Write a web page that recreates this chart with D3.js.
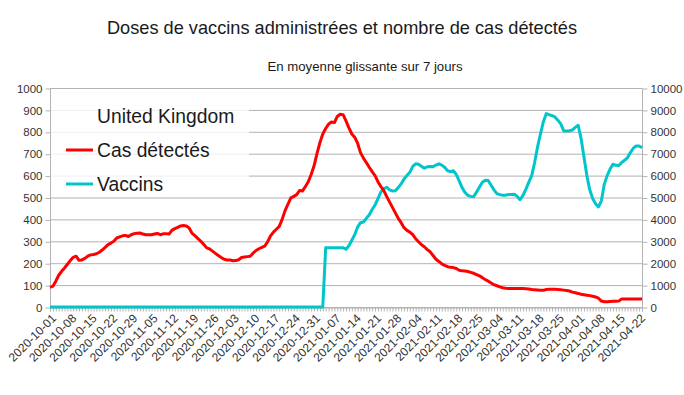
<!DOCTYPE html>
<head>
    <meta charset="utf-8">
    <script src="https://d3js.org/d3.v7.min.js"></script>
    <style>
        body { margin: 0; background: #fff; }
        text { font-family: "Liberation Sans", Arial, sans-serif; }
    </style>
</head>
<body>
    <svg></svg>
    <script>
        // daily values (7-day rolling mean)
        var startDate = "2020-10-01";

        var casValues = [
            90, 95, 118, 145, 163, 178, 195, 212, 227, 232,
            213, 215, 222, 232, 238, 240, 243, 250, 260, 272,
            285, 292, 300, 315, 320, 325, 327, 322, 330, 335,
            337, 338, 333, 330, 330, 330, 333, 336, 330, 334,
            335, 333, 350, 358, 364, 370, 372, 370, 360, 336,
            325, 312, 300, 285, 270, 265, 255, 245, 235, 226,
            218, 215, 215, 211, 212, 216, 226, 228, 230, 232,
            246, 258, 266, 272, 278, 298, 325, 342, 355, 368,
            400, 440, 470, 498, 505, 513, 532, 530, 550, 572,
            605, 645, 700, 750, 790, 815, 835, 845, 842, 870,
            880, 878, 850, 818, 790, 775, 748, 705, 680, 660,
            638, 618, 600, 572, 550, 533, 505, 480, 455, 430,
            405, 385, 362, 350, 342, 330, 312, 298, 285, 275,
            262, 252, 235, 218, 208, 197, 190, 184, 181, 180,
            176, 168, 165, 164, 162, 158, 154, 148, 142, 134,
            125, 118, 110, 102, 97, 92, 88, 86, 85, 84,
            84, 84, 84, 84, 83, 82, 80, 79, 78, 77,
            76, 80, 81, 81, 81, 80, 79, 77, 75, 73,
            68, 65, 62, 58, 56, 54, 52, 49, 46, 40,
            27, 24, 24, 25, 26, 26, 27, 37, 37, 37,
            37, 37, 37, 37, 37
        ];

        var vaccinValues = [
            0, 0, 0, 0, 0, 0, 0, 0, 0, 0,
            0, 0, 0, 0, 0, 0, 0, 0, 0, 0,
            0, 0, 0, 0, 0, 0, 0, 0, 0, 0,
            0, 0, 0, 0, 0, 0, 0, 0, 0, 0,
            0, 0, 0, 0, 0, 0, 0, 0, 0, 0,
            0, 0, 0, 0, 0, 0, 0, 0, 0, 0,
            0, 0, 0, 0, 0, 0, 0, 0, 0, 0,
            0, 0, 0, 0, 0, 0, 0, 0, 0, 0,
            0, 0, 0, 0, 0, 0, 0, 0, 0, 0,
            0, 0, 0, 0, 0, 2700, 2700, 2700, 2700, 2700,
            2700, 2700, 2640, 2800, 3050, 3300, 3650, 3850, 3880, 4050,
            4200, 4450, 4650, 4950, 5250, 5400, 5470, 5350, 5300, 5310,
            5450, 5620, 5850, 6000, 6150, 6420, 6540, 6520, 6420, 6340,
            6400, 6420, 6400, 6480, 6540, 6480, 6380, 6220, 6180, 6220,
            6050, 5760, 5450, 5230, 5100, 5050, 5040, 5250, 5480, 5700,
            5790, 5780, 5560, 5350, 5180, 5130, 5100, 5100, 5140, 5140,
            5150, 5050, 4900, 5100, 5380, 5700, 6000, 6600, 7300, 7900,
            8450, 8830, 8780, 8740, 8680, 8530, 8360, 8050, 8040, 8050,
            8080, 8200, 8300, 7700, 6850, 6000, 5350, 4950, 4720, 4570,
            4850, 5600, 6000, 6300, 6520, 6470, 6460, 6600, 6700, 6820,
            7050, 7250, 7350, 7350, 7280
        ];

        var tickLabels = ["2020-10-01", "2020-10-08", "2020-10-15", "2020-10-22", "2020-10-29",
            "2020-11-05", "2020-11-12", "2020-11-19", "2020-11-26", "2020-12-03", "2020-12-10",
            "2020-12-17", "2020-12-24", "2020-12-31", "2021-01-07", "2021-01-14", "2021-01-21",
            "2021-01-28", "2021-02-04", "2021-02-11", "2021-02-18", "2021-02-25", "2021-03-04",
            "2021-03-11", "2021-03-18", "2021-03-25", "2021-04-01", "2021-04-08", "2021-04-15",
            "2021-04-22"];

        var leftTicks = [0, 100, 200, 300, 400, 500, 600, 700, 800, 900, 1000];
        var rightTicks = [0, 1000, 2000, 3000, 4000, 5000, 6000, 7000, 8000, 9000, 10000];

        var seriesNames = ["Cas détectés", "Vaccins"];
        var seriesColors = ["#ff0000", "#00c6cc"];

        var parse = d3.utcParse("%Y-%m-%d");
        var start = parse(startDate);
        var dates = casValues.map(function (v, i) { return d3.utcDay.offset(start, i); });

        var width = 684, height = 395;
        var plot = { left: 50, right: 642, top: 88, bottom: 307 };

        var svg = d3.select("svg")
            .attr("width", width)
            .attr("height", height);

        var x = d3.scaleUtc()
            .domain([start, dates[dates.length - 1]])
            .range([plot.left, plot.right]);
        var yL = d3.scaleLinear().domain([0, 1000]).range([plot.bottom, plot.top]);
        var yR = d3.scaleLinear().domain([0, 10000]).range([plot.bottom, plot.top]);

        // gridlines
        svg.append("g")
            .selectAll("line")
            .data(leftTicks)
            .enter().append("line")
            .attr("x1", plot.left).attr("x2", plot.right)
            .attr("y1", function (d) { return yL(d) + 0.5; })
            .attr("y2", function (d) { return yL(d) + 0.5; })
            .attr("stroke", "#b3b3b3")
            .attr("stroke-width", 1);

        // left axis
        var axL = svg.append("g")
            .attr("transform", "translate(" + (plot.left + 0.5) + ",0.5)")
            .call(d3.axisLeft(yL).tickValues(leftTicks).tickFormat(d3.format("d")).tickSize(5).tickPadding(3));
        // right axis
        var axR = svg.append("g")
            .attr("transform", "translate(" + (plot.right + 0.5) + ",0.5)")
            .call(d3.axisRight(yR).tickValues(rightTicks).tickFormat(d3.format("d")).tickSize(5).tickPadding(3));
        // bottom axis: one tick per day, labels every 7 days
        var axB = svg.append("g")
            .attr("transform", "translate(0," + (plot.bottom + 0.5) + ")")
            .call(d3.axisBottom(x).tickValues(dates).tickSize(4).tickFormat(""));

        [axL, axR, axB].forEach(function (g) {
            g.selectAll("path, line").attr("stroke", "#b3b3b3");
            g.selectAll("text")
                .attr("fill", "#333")
                .style("font-family", "Liberation Sans, Arial, sans-serif")
                .style("font-size", "11.5px");
        });
        axL.select(".domain").attr("d", "M-0," + (plot.bottom) + "V" + plot.top);
        axR.select(".domain").attr("d", "M0," + (plot.bottom) + "V" + plot.top);

        svg.append("g")
            .selectAll("text")
            .data(tickLabels)
            .enter().append("text")
            .attr("transform", function (d) {
                return "translate(" + (x(parse(d)) + 4) + "," + (plot.bottom + 9) + ") rotate(-45)";
            })
            .attr("text-anchor", "end")
            .attr("dy", "0.35em")
            .attr("fill", "#333")
            .style("font-size", "12px")
            .text(function (d) { return d; });

        // lines
        var lineR = d3.line()
            .x(function (d, i) { return x(dates[i]); })
            .y(function (d) { return yR(d); });
        var lineL = d3.line()
            .x(function (d, i) { return x(dates[i]); })
            .y(function (d) { return yL(d); });

        svg.append("path")
            .datum(vaccinValues)
            .attr("d", lineR)
            .attr("fill", "none")
            .attr("stroke", seriesColors[1])
            .attr("stroke-width", 3)
            .attr("stroke-linejoin", "round");

        svg.append("path")
            .datum(casValues)
            .attr("d", lineL)
            .attr("fill", "none")
            .attr("stroke", seriesColors[0])
            .attr("stroke-width", 3)
            .attr("stroke-linejoin", "round");

        // legend
        svg.append("rect")
            .attr("x", 51).attr("y", 98)
            .attr("width", 198).attr("height", 97)
            .attr("fill", "#fff")
            .attr("fill-opacity", 0.8);

        svg.append("text")
            .attr("x", 97).attr("y", 123)
            .attr("fill", "#1a1a1a")
            .style("font-size", "19.3px")
            .text("United Kingdom");

        var legend = svg.append("g")
            .selectAll("g")
            .data(seriesNames)
            .enter().append("g")
            .attr("transform", function (d, i) { return "translate(0," + (i * 34) + ")"; });
        legend.append("line")
            .attr("x1", 66).attr("x2", 93)
            .attr("y1", 150).attr("y2", 150)
            .attr("stroke", function (d, i) { return seriesColors[i]; })
            .attr("stroke-width", 3);
        legend.append("text")
            .attr("x", 97).attr("y", 157)
            .attr("fill", "#1a1a1a")
            .style("font-size", "19.3px")
            .text(function (d) { return d; });

        // titles
        svg.append("text")
            .attr("x", 342).attr("y", 34)
            .attr("text-anchor", "middle")
            .attr("fill", "#1a1a1a")
            .style("font-size", "18.2px")
            .text("Doses de vaccins administrées et nombre de cas détectés");
        svg.append("text")
            .attr("x", 365).attr("y", 71)
            .attr("text-anchor", "middle")
            .attr("fill", "#1a1a1a")
            .style("font-size", "13.2px")
            .text("En moyenne glissante sur 7 jours");
    </script>
</body>
